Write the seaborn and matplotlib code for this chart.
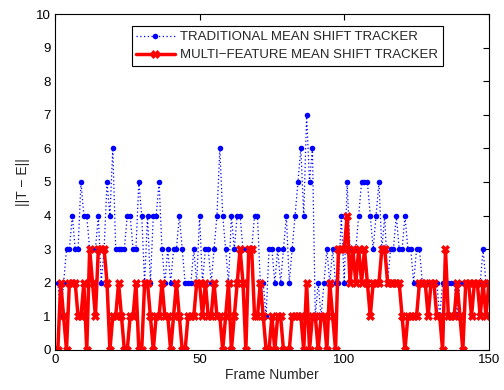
import numpy as np
import pandas as pd
import matplotlib
matplotlib.use("Agg")
import matplotlib.pyplot as plt
import seaborn as sns

frames = list(range(1, 151))
traditional = [2, 1, 2, 3, 3, 4, 3, 3, 5, 4, 4, 3, 3, 3, 4, 2, 3, 5, 4, 6, 3, 3, 3, 3, 4,
               4, 3, 3, 5, 4, 2, 4, 2, 4, 4, 5, 3, 2, 3, 2, 3, 3, 4, 3, 2, 2, 2, 3, 2, 4,
               2, 3, 3, 2, 3, 4, 6, 4, 3, 2, 4, 3, 4, 4, 3, 3, 3, 3, 4, 4, 2, 2, 1, 3, 3,
               2, 3, 2, 3, 4, 2, 3, 4, 5, 6, 4, 7, 5, 6, 1, 2, 1, 2, 3, 2, 3, 2, 2, 4, 2,
               5, 3, 3, 3, 4, 5, 5, 5, 4, 3, 4, 5, 3, 4, 2, 3, 3, 4, 3, 3, 4, 3, 3, 2, 3,
               3, 2, 2, 2, 2, 2, 2, 1, 2, 2, 2, 2, 2, 1, 2, 2, 2, 2, 1, 2, 2, 2, 3, 2, 2]
multi = [0, 2, 1, 0, 2, 2, 2, 1, 1, 2, 0, 3, 2, 1, 3, 3, 3, 2, 0, 1, 1, 2, 1, 0, 0,
         1, 1, 2, 0, 0, 2, 2, 1, 0, 1, 1, 2, 1, 1, 0, 1, 2, 1, 0, 0, 1, 1, 1, 2, 2,
         1, 2, 1, 1, 2, 1, 1, 0, 1, 2, 0, 1, 2, 3, 2, 0, 3, 3, 1, 1, 2, 1, 0, 0, 1,
         0, 1, 1, 0, 0, 0, 1, 1, 1, 1, 0, 2, 0, 1, 1, 0, 1, 1, 0, 2, 1, 0, 3, 3, 3,
         4, 2, 3, 2, 3, 2, 3, 2, 1, 2, 2, 2, 3, 3, 2, 2, 2, 2, 2, 1, 0, 1, 1, 1, 1,
         2, 2, 2, 1, 2, 2, 1, 1, 0, 3, 1, 1, 1, 2, 1, 0, 2, 2, 1, 2, 2, 1, 2, 1, 2]
labels = ["TRADITIONAL MEAN SHIFT TRACKER", "MULTI\u2212FEATURE MEAN SHIFT TRACKER"]

df1 = pd.DataFrame({"frame": frames, "err": traditional})
df2 = pd.DataFrame({"frame": frames, "err": multi})

sns.set_style("white")
plt.rcParams['font.family'] = ['Liberation Sans', 'DejaVu Sans']

fig = plt.figure(figsize=(5.04, 3.90), dpi=100)
ax = fig.add_axes([0.109, 0.1026, 0.861, 0.8615])

sns.lineplot(data=df1, x="frame", y="err", ax=ax, color="#0000ff", linestyle=(0, (1, 2)),
             linewidth=0.9, marker="o", markersize=4, markeredgewidth=0,
             label=labels[0])
sns.lineplot(data=df2, x="frame", y="err", ax=ax, color="#ff0000", linestyle="-",
             linewidth=2.5, marker="X", markersize=6, markeredgewidth=0.5,
             markeredgecolor="#ff0000", label=labels[1])

ax.set_xlim(0, 150)
ax.set_ylim(0, 10)
ax.set_xticks([0, 50, 100, 150])
ax.set_yticks(range(0, 11))
ax.tick_params(direction="in", length=4, labelsize=9.5, colors="black", top=True, right=True,
               pad=3)
for s in ax.spines.values():
    s.set_visible(True)
    s.set_color("black")
    s.set_linewidth(0.8)
ax.set_xlabel("Frame Number", fontsize=10, labelpad=1)
ax.set_ylabel("||T \u2212 E||", fontsize=10, labelpad=4)

leg = ax.legend(loc="upper left", bbox_to_anchor=(0.177, 0.963), fontsize=9.5,
                frameon=True, fancybox=False, edgecolor="black", framealpha=1,
                handlelength=2.9, handletextpad=0.4, borderpad=0.35, labelspacing=0.45,
                borderaxespad=0)
leg.get_frame().set_linewidth(0.8)

fig.savefig("out.png", dpi=100)
